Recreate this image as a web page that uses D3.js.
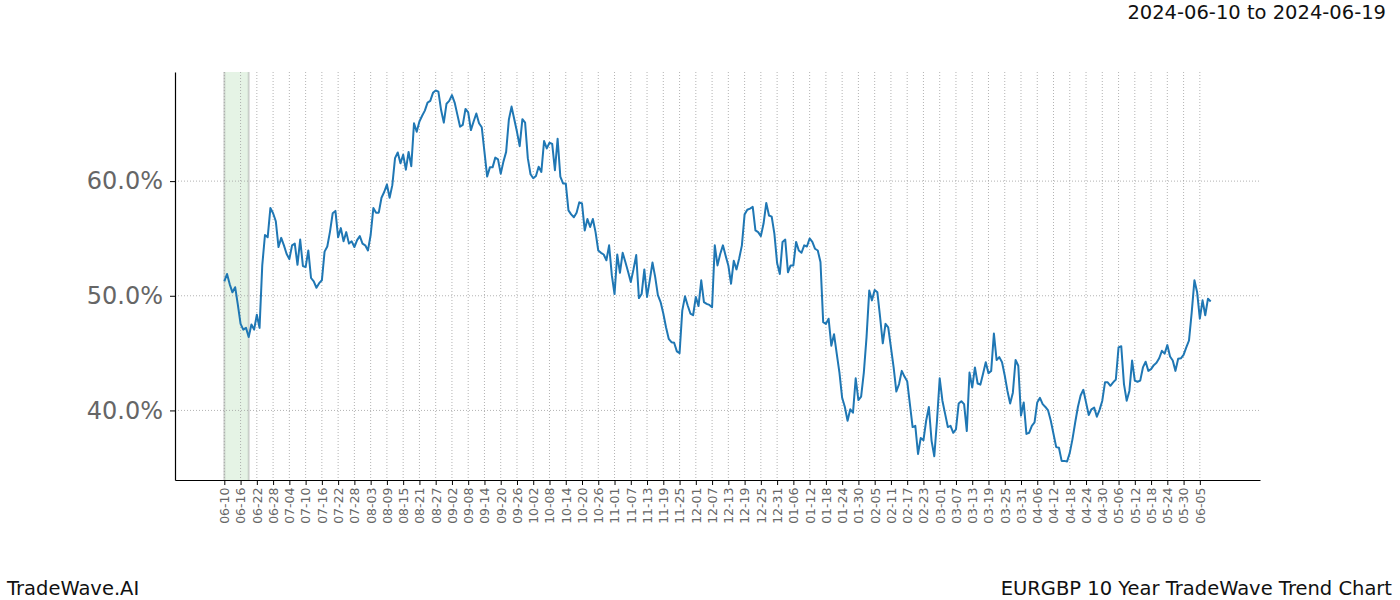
<!DOCTYPE html>
<html>
<head>
<meta charset="utf-8">
<script src="https://cdn.jsdelivr.net/npm/d3@7"></script>
<style>
  html, body { margin: 0; padding: 0; background: #fff; }
  svg { display: block; font-family: "DejaVu Sans", sans-serif; }
</style>
</head>
<body>
<svg id="chart" width="1400" height="600"></svg>
<script>
// ---- data ----
const startDate = "2024-06-10";           // first daily observation
const highlightRange = ["2024-06-10", "2024-06-19"];
const titleText = "2024-06-10 to 2024-06-19";
const brandText = "TradeWave.AI";
const chartName = "EURGBP 10 Year TradeWave Trend Chart";
const yTickValues = [40, 50, 60];          // percent
const xTickStepDays = 6;
const xTickFirst = "2024-06-10";
const xTickLast = "2025-06-05";

// daily trend values (%), one per calendar day from startDate
const trendValues = [
  51.25, 51.9, 51.0, 50.3, 50.75, 49.2, 47.55, 47.05, 47.2, 46.4,
  47.5, 47.05, 48.35, 47.2, 52.65, 55.3, 55.1, 57.65, 57.2, 56.5,
  54.25, 55.05, 54.4, 53.65, 53.2, 54.4, 54.55, 52.7, 54.9, 52.6,
  52.5, 53.95, 51.55, 51.25, 50.7, 51.1, 51.35, 53.85, 54.3, 55.6,
  57.2, 57.4, 55.1, 55.9, 54.75, 55.55, 54.55, 54.75, 54.25, 54.85,
  55.2, 54.55, 54.4, 53.95, 55.3, 57.65, 57.25, 57.25, 58.55, 59.05,
  59.7, 58.55, 59.65, 62.0, 62.5, 61.55, 62.3, 61.0, 62.55, 61.3,
  65.05, 64.3, 65.2, 65.7, 66.15, 66.85, 67.0, 67.7, 67.9, 67.8,
  66.2, 65.1, 66.75, 67.0, 67.5, 66.85, 65.8, 64.75, 64.9, 66.3,
  66.0, 64.45, 65.2, 65.9, 65.05, 64.7, 62.55, 60.4, 61.2, 61.2,
  62.05, 61.9, 60.65, 61.7, 62.55, 65.35, 66.5, 65.4, 64.3, 63.05,
  65.4, 65.1, 62.0, 60.6, 60.25, 60.45, 61.25, 60.8, 63.5, 62.85,
  63.35, 63.25, 60.95, 63.7, 60.4, 59.8, 59.8, 57.45, 57.1, 56.85,
  57.25, 58.15, 58.05, 55.7, 56.7, 56.0, 56.7, 55.55, 53.95, 53.75,
  53.6, 53.1, 54.4, 51.8, 50.15, 53.6, 52.0, 53.75, 52.95, 52.1,
  51.2, 52.3, 53.55, 49.8, 50.15, 52.3, 49.9, 51.35, 52.9, 51.65,
  50.05, 49.45, 48.45, 47.25, 46.25, 45.95, 45.9, 45.15, 45.0, 48.7,
  49.95, 49.15, 48.45, 48.3, 49.9, 49.1, 51.35, 49.45, 49.3, 49.2,
  49.0, 54.4, 52.65, 53.65, 54.4, 53.5, 52.65, 51.05, 53.05, 52.3,
  53.25, 54.4, 57.1, 57.5, 57.6, 57.75, 55.7, 55.55, 55.2, 56.3,
  58.1, 57.0, 56.9, 55.4, 52.85, 51.9, 54.7, 54.9, 52.05, 52.65,
  52.65, 54.7, 53.95, 53.75, 54.4, 54.3, 55.0, 54.7, 54.1, 53.95,
  52.95, 47.7, 47.55, 48.0, 45.65, 46.65, 44.95, 43.3, 41.1, 40.3,
  39.1, 40.1, 39.8, 42.8, 40.9, 41.2, 43.3, 46.4, 50.45, 49.6,
  50.5, 50.3, 48.15, 45.85, 47.55, 47.25, 45.5, 43.75, 41.65, 42.3,
  43.45, 42.95, 42.55, 40.55, 38.55, 38.65, 36.2, 37.6, 37.4, 39.1,
  40.3, 37.35, 36.0, 39.1, 42.8, 40.85, 39.7, 38.55, 38.65, 38.05,
  38.35, 40.6, 40.8, 40.55, 38.2, 43.3, 42.0, 43.75, 42.35, 42.25,
  43.2, 44.2, 43.25, 43.45, 46.7, 44.4, 44.65, 44.2, 43.05, 41.7,
  40.6, 41.55, 44.4, 43.9, 39.55, 40.7, 37.95, 38.05, 38.65, 38.95,
  40.7, 41.1, 40.55, 40.3, 40.0, 39.1, 37.95, 36.8, 36.75, 35.6,
  35.6, 35.55, 36.3, 37.5, 38.95, 40.3, 41.3, 41.8, 40.7, 39.6,
  40.1, 40.25, 39.45, 40.05, 40.85, 42.45, 42.45, 42.15, 42.45, 42.7,
  45.5, 45.6, 42.3, 40.85, 41.7, 44.35, 42.6, 42.5, 42.6, 43.75,
  44.25, 43.45, 43.6, 43.95, 44.15, 44.55, 45.2, 44.95, 45.7, 44.7,
  44.35, 43.45, 44.5, 44.55, 44.85, 45.5, 46.1, 48.55, 51.35, 50.3,
  48.0, 49.6, 48.3, 49.75, 49.5
];

// ---- layout ----
const W = 1400, H = 600;
const margin = { left: 175, right: 140, top: 72, bottom: 120 };
const plotW = W - margin.left - margin.right;   // 1085
const plotH = H - margin.top - margin.bottom;   // 408

const parse = d3.utcParse("%Y-%m-%d");
const t0 = parse(startDate);
const data = trendValues.map((v, i) => ({ date: d3.utcDay.offset(t0, i), value: v }));

const svg = d3.select("#chart");
const g = svg.append("g").attr("transform", `translate(${margin.left},${margin.top})`);

// scales with matplotlib-like 5% margins
const xExt = d3.extent(data, d => d.date);
const xPad = (xExt[1] - xExt[0]) * 0.05;
const x = d3.scaleUtc()
  .domain([new Date(+xExt[0] - xPad), new Date(+xExt[1] + xPad)])
  .range([0, plotW]);

const yExt = d3.extent(data, d => d.value);
const yPad = (yExt[1] - yExt[0]) * 0.05;
const y = d3.scaleLinear()
  .domain([yExt[0] - yPad, yExt[1] + yPad])
  .range([plotH, 0]);

const xTicks = d3.utcDay.range(parse(xTickFirst), d3.utcDay.offset(parse(xTickLast), 1), 1)
  .filter((d, i) => i % xTickStepDays === 0);

// highlight span
const hs = parse(highlightRange[0]), he = parse(highlightRange[1]);
g.append("rect")
  .attr("x", x(hs)).attr("y", 0)
  .attr("width", x(he) - x(hs)).attr("height", plotH)
  .attr("fill", "#2ca02c").attr("fill-opacity", 0.12);
[hs, he].forEach(d => {
  g.append("line")
    .attr("x1", x(d)).attr("x2", x(d)).attr("y1", 0).attr("y2", plotH)
    .attr("stroke", "#8a8a8a").attr("stroke-opacity", 0.35).attr("stroke-width", 2);
});

// grid
g.append("g").selectAll("line").data(xTicks).join("line")
  .attr("x1", d => x(d)).attr("x2", d => x(d))
  .attr("y1", 0).attr("y2", plotH)
  .attr("stroke", "#a0a0a0").attr("stroke-width", 0.8)
  .attr("stroke-dasharray", "1,2");
g.append("g").selectAll("line").data(yTickValues).join("line")
  .attr("x1", 0).attr("x2", plotW)
  .attr("y1", d => y(d)).attr("y2", d => y(d))
  .attr("stroke", "#a0a0a0").attr("stroke-width", 0.8)
  .attr("stroke-dasharray", "1,2");

// line
g.append("path")
  .datum(data)
  .attr("fill", "none")
  .attr("stroke", "#1f77b4")
  .attr("stroke-width", 2)
  .attr("stroke-linejoin", "round")
  .attr("d", d3.line().x(d => x(d.date)).y(d => y(d.value)));

// axes
const xAxis = g.append("g")
  .attr("transform", `translate(0,${plotH})`)
  .call(d3.axisBottom(x).tickValues(xTicks).tickFormat(d3.utcFormat("%m-%d"))
    .tickSizeInner(5).tickSizeOuter(0).tickPadding(4));
xAxis.select(".domain").attr("stroke", "#000").attr("stroke-width", 1.2);
xAxis.selectAll(".tick line").attr("stroke", "#000").attr("stroke-width", 1);
xAxis.selectAll(".tick text")
  .attr("fill", "#666")
  .style("font-size", "12.5px")
  .style("font-family", "DejaVu Sans")
  .attr("transform", "rotate(-90)")
  .attr("text-anchor", "end")
  .attr("x", 0).attr("y", 0)
  .attr("dy", "0.35em").attr("dx", "-0.6em");

const yAxis = g.append("g")
  .call(d3.axisLeft(y).tickValues(yTickValues).tickFormat(d => d.toFixed(1) + "%")
    .tickSizeInner(5).tickSizeOuter(0).tickPadding(7));
yAxis.select(".domain").attr("stroke", "#000").attr("stroke-width", 1.2);
yAxis.selectAll(".tick line").attr("stroke", "#000");
yAxis.selectAll(".tick text")
  .attr("fill", "#666")
  .style("font-size", "24px")
  .style("font-family", "DejaVu Sans");

// texts
svg.append("text").attr("x", 1386).attr("y", 19).attr("text-anchor", "end")
  .style("font-size", "19.5px").attr("fill", "#111").text(titleText);
svg.append("text").attr("x", 7).attr("y", 595)
  .style("font-size", "19.5px").attr("fill", "#111").text(brandText);
svg.append("text").attr("x", 1392).attr("y", 595).attr("text-anchor", "end")
  .style("font-size", "19.5px").attr("fill", "#111").text(chartName);
</script>
</body>
</html>
